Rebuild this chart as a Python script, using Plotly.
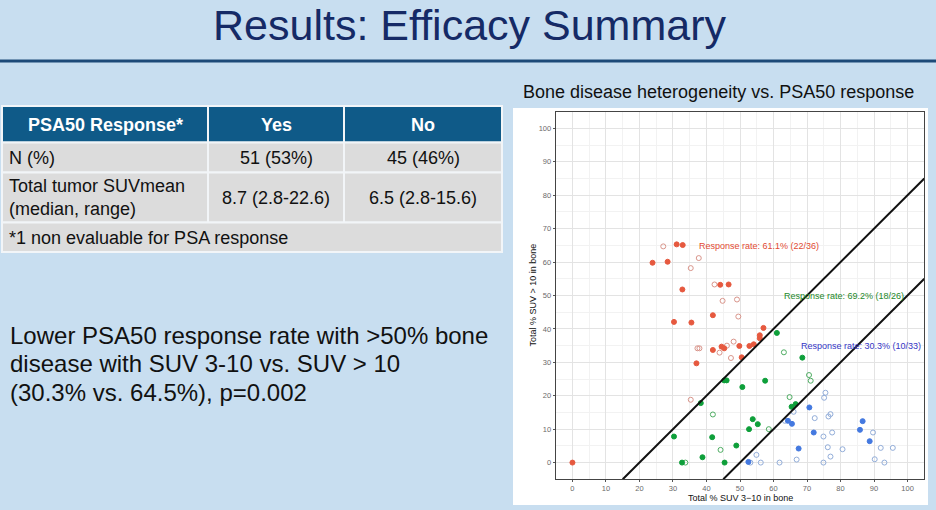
import plotly.graph_objects as go

W, H = 936, 510

# ---------------- data ----------------
red_filled_x = [0, 23.9, 28.4, 31.1, 32.9, 32.8, 30.3, 35.5, 37.0, 41.9, 44.1, 46.6, 41.9, 44.5, 45.3, 49.8, 50.5, 52.8, 54.1, 55.9, 55.9, 57.0]
red_filled_y = [0, 59.8, 60.1, 65.3, 65.1, 51.8, 42.1, 41.9, 29.7, 44.1, 53.2, 53.3, 33.7, 34.7, 34.2, 34.9, 31.5, 34.9, 35.4, 38.1, 37.2, 40.3]
red_open_x = [27.1, 37.7, 35.3, 42.4, 44.8, 49.1, 49.5, 37.3, 37.9, 43.9, 46.1, 48.1, 47.3, 35.3]
red_open_y = [64.7, 61.2, 58.2, 53.3, 48.4, 48.8, 43.7, 34.2, 34.2, 32.9, 35.0, 36.2, 31.3, 18.8]

green_filled_x = [30.3, 32.7, 38.3, 38.8, 41.7, 45.4, 45.3, 46.0, 48.9, 50.7, 52.7, 53.8, 55.3, 57.5, 61.0, 68.6, 65.4, 66.6]
green_filled_y = [7.8, 0, 17.8, 1.6, 7.6, 0, 24.6, 24.6, 5.1, 22.6, 10.0, 13.0, 11.5, 24.5, 38.8, 31.4, 16.7, 17.5]
green_open_x = [33.7, 41.9, 44.2, 58.6, 63.1, 64.8, 70.6, 71.1]
green_open_y = [0, 14.4, 3.8, 10.0, 33.0, 19.6, 26.2, 24.5]

blue_filled_x = [52.5, 64.3, 65.5, 70.7, 72.0, 67.5, 86.6, 85.8, 88.7]
blue_filled_y = [0.2, 12.5, 11.6, 16.5, 9.0, 4.2, 12.4, 9.8, 6.4]
blue_open_x = [53.1, 54.9, 56.2, 61.8, 63.4, 66.0, 66.9, 72.3, 74.9, 74.9, 75.1, 75.5, 76.2, 76.4, 77.0, 77.0, 77.5, 80.6, 89.7, 90.2, 92.0, 93.1, 95.6]
blue_open_y = [0, 2.3, 0, 0, 12.5, 15.2, 0.9, 13.3, 7.8, 0, 19.4, 20.9, 4.6, 13.8, 14.5, 1.8, 9.0, 4.0, 9.0, 1.0, 4.4, 0, 4.4]

cut1_x = [15, 105]
cut1_y = [-5, 85]
cut2_x = [45, 105]
cut2_y = [-5, 55]

rate_labels = ["Response rate: 61.1% (22/36)", "Response rate: 69.2% (18/26)", "Response rate: 30.3% (10/33)"]
rate_x = [37.3, 62.4, 67.5]
rate_y = [64.8, 49.9, 34.9]
rate_colors = ["#E24A33", "#1E8A2A", "#3535C5"]

axis_ticks = [0, 10, 20, 30, 40, 50, 60, 70, 80, 90, 100]

table_header = ["PSA50 Response*", "Yes", "No"]
table_row1 = ["N (%)", "51 (53%)", "45 (46%)"]
table_row2 = ["Total tumor SUVmean<br>(median, range)", "8.7 (2.8-22.6)", "6.5 (2.8-15.6)"]
table_note = "*1 non evaluable for PSA response"

body_lines = ["Lower PSA50 response rate with >50% bone",
              "disease with SUV 3-10 vs. SUV > 10",
              "(30.3% vs. 64.5%), p=0.002"]

# ---------------- helpers ----------------
def px(x):
    return x / W

def py(y):
    return 1 - y / H

fig = go.Figure()

def add_pts(xs, ys, color, filled):
    fig.add_trace(go.Scatter(
        x=xs, y=ys, mode="markers", showlegend=False, hoverinfo="x+y",
        marker=dict(symbol="circle" if filled else "circle-open", size=5 if filled else 5,
                    color=color, line=dict(width=1, color=color))))

add_pts(red_open_x, red_open_y, "#D9958B", False)
add_pts(green_open_x, green_open_y, "#4FAD63", False)
add_pts(blue_open_x, blue_open_y, "#92ADD9", False)
add_pts(red_filled_x, red_filled_y, "#E6593F", True)
add_pts(green_filled_x, green_filled_y, "#0E9F3A", True)
add_pts(blue_filled_x, blue_filled_y, "#4479E0", True)

for lx, ly in [(cut1_x, cut1_y), (cut2_x, cut2_y)]:
    fig.add_trace(go.Scatter(x=lx, y=ly, mode="lines", showlegend=False, hoverinfo="skip",
                             line=dict(color="#111111", width=2)))

for t, x, y, c in zip(rate_labels, rate_x, rate_y, rate_colors):
    fig.add_annotation(x=x, y=y, xref="x", yref="y", text=t, showarrow=False,
                       xanchor="left", yanchor="middle",
                       font=dict(family="Liberation Sans, Arial, sans-serif", size=9, color=c))

axis_common = dict(
    range=[-5, 105], tickmode="array", tickvals=axis_ticks,
    ticks="outside", ticklen=2, tickcolor="#555555", tickwidth=1,
    tickfont=dict(family="Liberation Sans, Arial, sans-serif", size=7.5, color="#6A6A6A"),
    showgrid=True, gridcolor="#E3E3E3", gridwidth=1,
    minor=dict(dtick=5, tick0=5, showgrid=True, gridcolor="#F2F2F2", gridwidth=0.7),
    zeroline=False, showline=True, mirror=True, linecolor="#444444", linewidth=1,
)

fig.update_layout(
    width=W, height=H, margin=dict(l=0, r=0, t=0, b=0),
    paper_bgcolor="#C8DEF0", plot_bgcolor="#FFFFFF",
    xaxis=dict(domain=[px(555.7), px(924.3)], **axis_common),
    yaxis=dict(domain=[py(479.3), py(111.7)], **axis_common),
    showlegend=False,
)

shapes = []
# white chart area
shapes.append(dict(type="rect", xref="paper", yref="paper", layer="below",
                   x0=px(513), x1=px(928), y0=py(505), y1=py(108),
                   fillcolor="#FFFFFF", line=dict(width=0)))
# title rule
shapes.append(dict(type="line", xref="paper", yref="paper",
                   x0=0, x1=1, y0=py(61), y1=py(61), line=dict(color="#1D4A78", width=3)))

# table cells
cols = [2, 208, 344, 502]
rows = [106, 142.5, 172.5, 222.5, 252]
for r in range(3):
    for c in range(3):
        shapes.append(dict(type="rect", xref="paper", yref="paper",
                           x0=px(cols[c]), x1=px(cols[c + 1]),
                           y0=py(rows[r + 1]), y1=py(rows[r]),
                           fillcolor="#0F5A88" if r == 0 else "#DCDCDC",
                           line=dict(color="#F2F5F8", width=2)))
shapes.append(dict(type="rect", xref="paper", yref="paper",
                   x0=px(cols[0]), x1=px(cols[3]), y0=py(rows[4]), y1=py(rows[3]),
                   fillcolor="#DCDCDC", line=dict(color="#F2F5F8", width=2)))
fig.update_layout(shapes=shapes)

FONT = "Liberation Sans, Arial, sans-serif"

def txt(x, y, s, size, color="#000000", anchor="left", family=FONT, bold=False):
    fig.add_annotation(x=px(x), y=py(y), xref="paper", yref="paper", text=("<b>%s</b>" % s) if bold else s,
                       showarrow=False, xanchor=anchor, yanchor="middle", align=anchor,
                       font=dict(family=family, size=size, color=color))

# slide title
txt(469, 25, "Results: Efficacy Summary", 43, "#152A66", "center",
    family="Liberation Sans Narrow, Arial Narrow, Liberation Sans, sans-serif")

# table text
centers = [(cols[i] + cols[i + 1]) / 2 for i in range(3)]
for i, s in enumerate(table_header):
    txt(centers[i], 124.5, s, 18, "#FFFFFF", "center", bold=True)
txt(7, 158, table_row1[0], 18, "#111111", "left")
txt(centers[1], 158, table_row1[1], 18, "#111111", "center")
txt(centers[2], 158, table_row1[2], 18, "#111111", "center")
txt(7, 198, table_row2[0], 18, "#111111", "left")
txt(centers[1], 198, table_row2[1], 18, "#111111", "center")
txt(centers[2], 198, table_row2[2], 18, "#111111", "center")
txt(7, 238, table_note, 18, "#111111", "left")

# body text
for i, s in enumerate(body_lines):
    txt(8, 335 + i * 28.5, s, 24, "#111111", "left")

# chart title
txt(718, 92, "Bone disease heterogeneity vs. PSA50 response", 18, "#111111", "center")

# axis titles
txt(740, 498, "Total % SUV 3\u221210 in bone", 9, "#111111", "center")
fig.add_annotation(x=px(532), y=py(295.5), xref="paper", yref="paper",
                   text="Total % SUV > 10 in bone", showarrow=False, textangle=-90,
                   xanchor="center", yanchor="middle",
                   font=dict(family=FONT, size=9, color="#111111"))

fig.write_html("out.html")
